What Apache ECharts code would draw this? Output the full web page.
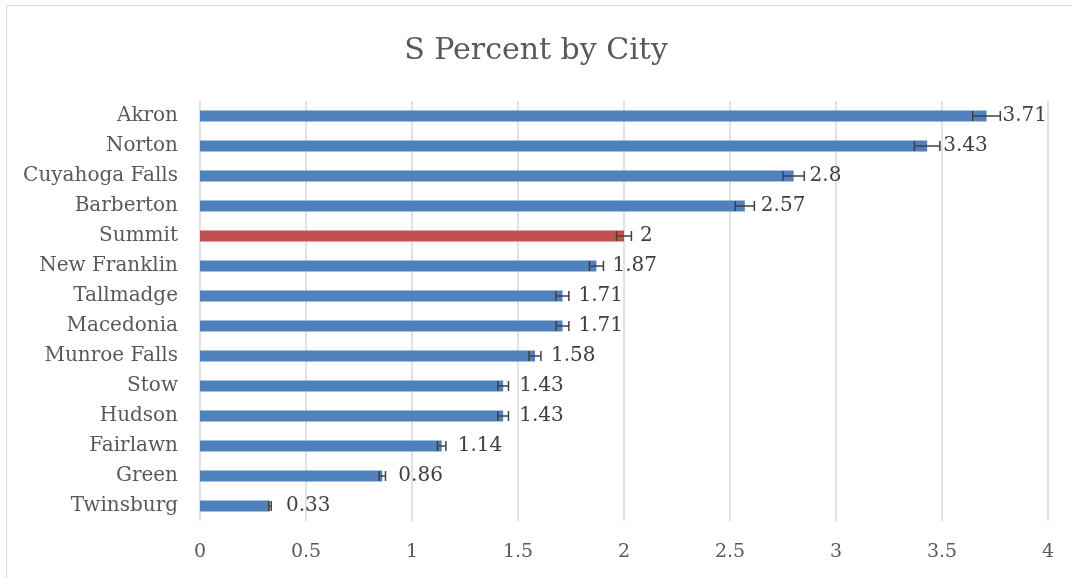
<!DOCTYPE html>
<html>
<head>
<meta charset="utf-8">
<script src="https://cdn.jsdelivr.net/npm/echarts@6/dist/echarts.min.js"></script>
<style>
  html, body { margin: 0; padding: 0; background: #fff; }
  #chart { width: 1072px; height: 578px; }
</style>
</head>
<body>
<div id="chart"></div>
<script>
  const cities = ['Akron', 'Norton', 'Cuyahoga Falls', 'Barberton', 'Summit', 'New Franklin', 'Tallmadge',
    'Macedonia', 'Munroe Falls', 'Stow', 'Hudson', 'Fairlawn', 'Green', 'Twinsburg'];
  const percents = [3.71, 3.43, 2.8, 2.57, 2, 1.87, 1.71, 1.71, 1.58, 1.43, 1.43, 1.14, 0.86, 0.33];
  const errors = [0.065, 0.06, 0.05, 0.045, 0.035, 0.033, 0.03, 0.03, 0.028, 0.025, 0.025, 0.02, 0.015, 0.006];
  const xTicks = [0, 0.5, 1, 1.5, 2, 2.5, 3, 3.5, 4];
  const highlight = 'Summit';

  const font = 'DejaVu Serif';
  let myChart = echarts.init(document.getElementById('chart'));

  const barData = percents.map((v, i) => ({
    value: v,
    itemStyle: { color: cities[i] === highlight ? '#C0504D' : '#4F81BD' }
  }));
  const errData = percents.map((v, i) => [i, v - errors[i], v + errors[i]]);

  myChart.setOption({
    animation: false,
    title: {
      text: 'S Percent by City',
      left: 'center',
      top: 31,
      textStyle: { fontFamily: font, fontSize: 30, fontWeight: 'normal', color: '#595959' }
    },
    graphic: [{
      type: 'rect',
      shape: { x: 6.5, y: 5.5, width: 1080, height: 600 },
      style: { fill: 'none', stroke: '#d9d9d9', lineWidth: 1 }
    }],
    grid: { left: 200, right: 24, top: 101, bottom: 57 },
    xAxis: {
      type: 'value',
      min: 0,
      max: 4,
      interval: 0.5,
      axisLine: { show: false },
      axisTick: { show: false },
      splitLine: { show: true, lineStyle: { color: '#d9d9d9', width: 1.5 } },
      axisLabel: {
        margin: 22,
        fontFamily: font,
        fontSize: 19,
        color: '#595959',
        formatter: v => xTicks.includes(v) ? String(v) : ''
      }
    },
    yAxis: {
      type: 'category',
      data: cities,
      inverse: true,
      axisLine: { show: false },
      axisTick: { show: false },
      axisLabel: { margin: 22, fontFamily: font, fontSize: 20, color: '#595959', padding: [8, 0, 0, 0] }
    },
    series: [{
      type: 'bar',
      data: barData,
      barWidth: 11,
      label: {
        show: true,
        position: 'right',
        distance: 16,
        fontFamily: font,
        fontSize: 20,
        color: '#404040',
        padding: [8, 0, 0, 0]
      }
    }, {
      type: 'custom',
      data: errData,
      z: 10,
      renderItem: function (params, api) {
        const y = api.value(0);
        const a = api.coord([api.value(1), y]);
        const b = api.coord([api.value(2), y]);
        const h = 5;
        const st = { stroke: '#404040', lineWidth: 1.5 };
        return {
          type: 'group',
          children: [
            { type: 'line', shape: { x1: a[0], y1: a[1], x2: b[0], y2: b[1] }, style: st },
            { type: 'line', shape: { x1: a[0], y1: a[1] - h, x2: a[0], y2: a[1] + h }, style: st },
            { type: 'line', shape: { x1: b[0], y1: b[1] - h, x2: b[0], y2: b[1] + h }, style: st }
          ]
        };
      }
    }]
  });
</script>
</body>
</html>
